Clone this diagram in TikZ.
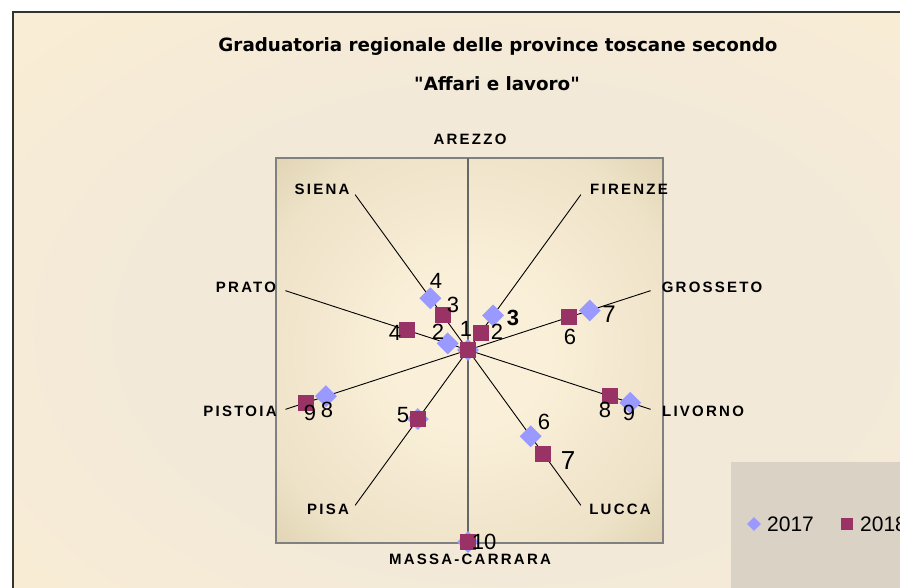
\documentclass[tikz,border=0pt]{standalone}
\usepackage{fontspec}
\setmainfont{Liberation Sans}
\newfontfamily\catfont[LetterSpace=15]{Liberation Sans}
\newfontfamily\titlefont{DejaVu Sans}
\usetikzlibrary{shapes.geometric}
\definecolor{diac}{HTML}{9999FF}
\definecolor{sqc}{HTML}{993366}
\definecolor{pa}{HTML}{FAEFD8}
\definecolor{pb}{HTML}{EEE3C8}
\definecolor{pc}{HTML}{D6C8A3}
\definecolor{pd}{HTML}{C9BA93}
\definecolor{oa}{HTML}{F2E9D8}
\definecolor{ob}{HTML}{FDEFD3}
\definecolor{legc}{HTML}{D9D2C5}
\definecolor{framec}{HTML}{808080}
\pgfdeclareradialshading{plotbg}{\pgfpoint{0bp}{0bp}}{color(0bp)=(pa); color(10bp)=(pa); color(28bp)=(pb); color(42bp)=(pc); color(60bp)=(pd); color(72bp)=(pd)}
\pgfdeclareradialshading{outerbg}{\pgfpoint{0bp}{0bp}}{color(0bp)=(oa); color(18bp)=(oa); color(42bp)=(ob); color(72bp)=(ob)}
\tikzset{
  dia/.style={diamond, fill=diac, inner sep=0pt, minimum width=22pt, minimum height=22pt},
  sq/.style={rectangle, fill=sqc, inner sep=0pt, minimum size=16pt},
  val/.style={inner sep=0pt, font=\fontsize{22}{22}\selectfont},
  cat/.style={inner sep=0pt, font=\catfont\bfseries\fontsize{15}{15}\selectfont},
  spoke/.style={black, line width=0.9pt},
  vaxis/.style={color=framec!120, line width=1.4pt},
  ttl/.style={inner sep=0pt, anchor=base, font=\titlefont\bfseries\fontsize{18.3}{18.3}\selectfont}
}
\begin{document}
\begin{tikzpicture}[x=1pt,y=-1pt]
\useasboundingbox (0,0) rectangle (900,587);
\begin{scope}
\clip (0,0) rectangle (900,587);
\fill[white] (0,0) rectangle (900,587);
\shade[shading=outerbg] (13,12) rectangle (1000,650);
\draw[line width=1.5pt, color=black!80] (13,700) -- (13,12) -- (1000,12);
% title
\node[ttl] (t1) at (498,51) {Graduatoria regionale delle province toscane secondo};
\node[ttl] (t2) at (497,90) {"Affari e lavoro"};
% plot area
\shade[shading=plotbg] (276,158) rectangle (663,543);
\draw[framec, line width=2pt] (276,158) rectangle (663,543);
\coordinate (C) at (468,350);
\foreach \i in {0,...,9}{
  \coordinate (e\i) at ([shift={({192*sin(36*\i)},{-192*cos(36*\i)})}]C);
}
\foreach \i in {1,2,3,4,6,7,8,9}{
  \draw[spoke] (C) -- (e\i);
}
\draw[vaxis] (e0) -- (e5);
% category labels
\node[cat] (nAREZZO) at (470,139) {AREZZO};
\node[cat] (nFIRENZE) at (629,189) {FIRENZE};
\node[cat] (nGROSSETO) at (712,287) {GROSSETO};
\node[cat] (nLIVORNO) at (703,411) {LIVORNO};
\node[cat] (nLUCCA) at (620,509) {LUCCA};
\node[cat] (nMASSA) at (470,559) {MASSA-CARRARA};
\node[cat] (nPISA) at (328,509) {PISA};
\node[cat] (nPISTOIA) at (240,411) {PISTOIA};
\node[cat] (nPRATO) at (246,287) {PRATO};
\node[cat] (nSIENA) at (322,189) {SIENA};
% 2017 series
\foreach \i/\v in {0/1,1/3,2/7,3/9,4/6,5/10,6/5,7/8,8/2,9/4}{
  \node[dia] (d\i) at ([shift={({21.333*(\v-1)*sin(36*\i)},{-21.333*(\v-1)*cos(36*\i)})}]C) {};
}
% 2018 series
\foreach \i/\v in {0/1,1/2,2/6,3/8,4/7,5/10,6/5,7/9,8/4,9/3}{
  \node[sq] (s\i) at ([shift={({21.333*(\v-1)*sin(36*\i)},{-21.333*(\v-1)*cos(36*\i)})}]C) {};
}
% value labels
\node[val] (l1) at (436,281) {4};
\node[val] (l2) at (453,305) {3};
\node[val] (l3) at (438,332) {2};
\node[val] (l4) at (395,333) {4};
\node[val] (l5) at (466,329) {1};
\node[val] (l6) at (497,332) {2};
\node[val, font=\bfseries\fontsize{22}{22}\selectfont] (l7) at (513,318) {3};
\node[val, font=\fontsize{24}{24}\selectfont] (l8) at (609,314) {7};
\node[val] (l9) at (570,337) {6};
\node[val] (l10) at (605,410) {8};
\node[val] (l11) at (629,413) {9};
\node[val] (l12) at (544,422) {6};
\node[val, font=\fontsize{26}{26}\selectfont] (l13) at (568,461) {7};
\node[val] (l14) at (484,542) {10};
\node[val] (l15) at (403,415) {5};
\node[val] (l16) at (310,413) {9};
\node[val] (l17) at (327,410) {8};
% legend
\fill[legc] (731,462) rectangle (1000,700);
\node[dia, minimum width=14pt, minimum height=14pt] (ld) at (754,524) {};
\node[inner sep=0pt, anchor=west, font=\fontsize{21}{21}\selectfont] (lt1) at (767,524) {2017};
\node[sq, minimum size=12pt] (ls) at (847,524) {};
\node[inner sep=0pt, anchor=west, font=\fontsize{21}{21}\selectfont] (lt2) at (860,524) {2018};
\end{scope}
\end{tikzpicture}
\end{document}
